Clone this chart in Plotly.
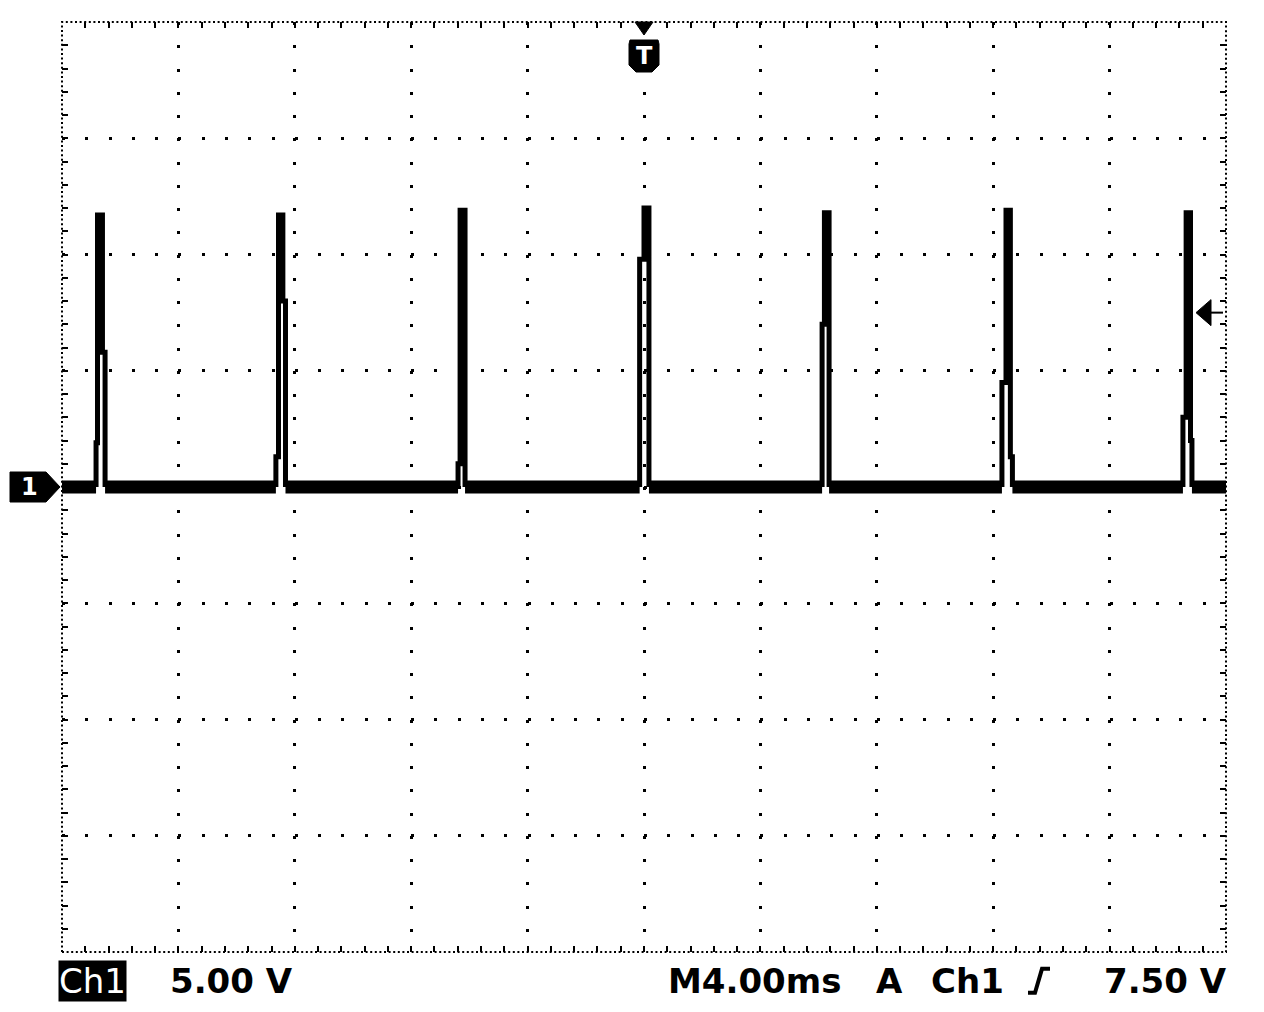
import plotly.graph_objects as go

# ---- data (time in ms relative to trigger, voltage in V) ----
time_range_ms = [-20, 20]
volt_range_v = [-20, 20]
time_div_ms = 4.0
volt_div_v = 5.0

pulse_start_ms = [-18.83, -12.65, -6.39, -0.15, 6.12, 12.30, 18.52]
pulse_rise_ms = [-18.78, -12.56, -6.32, 0.00, 6.20, 12.44, 18.63]
pulse_fall_ms = [-18.61, -12.41, -6.15, 0.17, 6.36, 12.59, 18.78]
pulse_end_ms = [-18.52, -12.32, -6.15, 0.17, 6.36, 12.66, 18.83]
pulse_step_v = [1.9, 1.3, 1.0, 9.8, 7.0, 4.5, 3.0]
pulse_peak_v = [11.7, 11.7, 11.9, 12.0, 11.8, 11.9, 11.8]
pulse_tail_v = [5.8, 8.0, 0.0, 0.0, 0.0, 1.3, 2.0]
baseline_v = 0.0
trigger_level_v = 7.5

ch_label = "Ch1"
volts_label = "5.00 V"
time_label = "M4.00ms"
mode_label = "A"
trig_src_label = "Ch1"
trig_level_label = "7.50 V"

# ---- build traces ----
spike_x, spike_y = [], []
for ta, tb, tc, td, v1, vp, v2 in zip(pulse_start_ms, pulse_rise_ms, pulse_fall_ms,
                                      pulse_end_ms, pulse_step_v, pulse_peak_v, pulse_tail_v):
    spike_x += [ta, ta, tb, tb, tc, tc, td, td, None]
    spike_y += [baseline_v, v1, v1, vp, vp, v2, v2, baseline_v, None]

base_x, base_y = [], []
edges = [time_range_ms[0]] + [v for pair in zip(pulse_start_ms, pulse_end_ms) for v in pair] + [time_range_ms[1]]
for i in range(0, len(edges), 2):
    base_x += [edges[i], edges[i + 1], None]
    base_y += [baseline_v, baseline_v, None]

fig = go.Figure()
fig.add_trace(go.Scatter(x=base_x, y=base_y, mode="lines",
                         line=dict(color="black", width=13), hoverinfo="skip", showlegend=False))
fig.add_trace(go.Scatter(x=spike_x, y=spike_y, mode="lines",
                         line=dict(color="black", width=5), hoverinfo="skip", showlegend=False))

minor_t = time_div_ms / 5
minor_v = volt_div_v / 5

common_hidden = dict(showticklabels=False, showline=False, zeroline=False, showgrid=False)

# page body has an 8px margin: plot area lands at x 62..1226, y 22..952 on screen
fig.update_layout(
    width=1248, height=996,
    margin=dict(l=54, r=30, t=14, b=52),
    paper_bgcolor="white", plot_bgcolor="white",
    showlegend=False,
    xaxis=dict(range=time_range_ms, dtick=time_div_ms, tick0=0,
               showgrid=True, gridcolor="black", gridwidth=3, griddash="3px,20.25px",
               zeroline=False, showline=False, showticklabels=False,
               ticks="inside", ticklen=6, tickcolor="black", tickwidth=2, mirror="ticks",
               minor=dict(dtick=minor_t, tick0=0, ticks="inside", ticklen=6,
                          tickcolor="black", tickwidth=2, showgrid=False)),
    yaxis=dict(range=volt_range_v, dtick=volt_div_v, tick0=0,
               showgrid=True, gridcolor="black", gridwidth=3, griddash="3px,20.28px",
               zeroline=False, showline=False, showticklabels=False,
               ticks="inside", ticklen=6, tickcolor="black", tickwidth=2, mirror="ticks",
               minor=dict(dtick=minor_v, tick0=0, ticks="inside", ticklen=6,
                          tickcolor="black", tickwidth=2, showgrid=False)),
    xaxis2=dict(overlaying="x", anchor="free", position=0.5, range=time_range_ms,
                dtick=minor_t, tick0=0, ticks="outside", ticklen=8, tickwidth=3,
                tickcolor="black", **common_hidden),
    xaxis3=dict(overlaying="x", anchor="free", position=0.5, range=time_range_ms,
                dtick=minor_t, tick0=0, ticks="inside", ticklen=8, tickwidth=3,
                tickcolor="black", **common_hidden),
    yaxis2=dict(overlaying="y", anchor="free", position=0.5, range=volt_range_v,
                dtick=minor_v, tick0=0, ticks="outside", ticklen=8, tickwidth=3,
                tickcolor="black", **common_hidden),
    yaxis3=dict(overlaying="y", anchor="free", position=0.5, range=volt_range_v,
                dtick=minor_v, tick0=0, ticks="inside", ticklen=8, tickwidth=3,
                tickcolor="black", **common_hidden),
)

# dotted border
fig.add_shape(type="rect", xref="paper", yref="paper", x0=0, x1=1, y0=0, y1=1,
              line=dict(color="black", width=2, dash="2px,2.6px"), layer="above")

# ground marker "1"
fig.add_shape(type="path", xref="paper", yref="y", xsizemode="pixel", ysizemode="pixel",
              xanchor=0, yanchor=baseline_v,
              path="M-52,-15 L-16,-15 L-2,0 L-16,15 L-52,15 Z",
              fillcolor="black", line=dict(color="black", width=1))
fig.add_annotation(x=0, xref="paper", y=baseline_v, yref="y", xshift=-33, text="<b>1</b>",
                   showarrow=False, xanchor="center", yanchor="middle",
                   font=dict(family="DejaVu Sans", size=24, color="white"))

# trigger position marker "T"
fig.add_shape(type="path", xref="paper", yref="paper", xsizemode="pixel", ysizemode="pixel",
              xanchor=0.5, yanchor=1, path="M-9,0 L9,0 L0,-13 Z",
              fillcolor="black", line=dict(color="black", width=1))
fig.add_shape(type="path", xref="paper", yref="paper", xsizemode="pixel", ysizemode="pixel",
              xanchor=0.5, yanchor=1,
              path="M-14,-18 L14,-18 L15,-22 L15,-43 L8,-50 L-8,-50 L-15,-43 L-15,-22 Z",
              fillcolor="black", line=dict(color="black", width=1))
fig.add_annotation(x=0.5, xref="paper", y=1, yref="paper", yshift=-34, text="<b>T</b>",
                   showarrow=False, xanchor="center", yanchor="middle",
                   font=dict(family="DejaVu Sans", size=24, color="white"))

# trigger level marker
fig.add_shape(type="path", xref="paper", yref="y", xsizemode="pixel", ysizemode="pixel",
              xanchor=1, yanchor=trigger_level_v, path="M-30,0 L-15,13 L-15,-13 Z",
              fillcolor="black", line=dict(color="black", width=1))
fig.add_shape(type="path", xref="paper", yref="y", xsizemode="pixel", ysizemode="pixel",
              xanchor=1, yanchor=trigger_level_v, path="M-16,0 L-3,0",
              line=dict(color="black", width=2))

# bottom status line
status_y = -0.031
font_status = dict(family="DejaVu Sans", size=34, color="black", weight="bold")
def status(text, px, font=font_status, **kw):
    fig.add_annotation(x=(px - 62) / 1164, xref="paper", y=status_y, yref="paper", text=text,
                       showarrow=False, xanchor="center", yanchor="middle", font=font, **kw)

status(ch_label, 92, font=dict(family="DejaVu Sans", size=34, color="white"),
       bgcolor="black", borderpad=0)
status(volts_label, 231)
status(time_label, 754)
status(mode_label, 889)
status(trig_src_label, 967)
status(trig_level_label, 1165)
# rising-edge symbol
fig.add_shape(type="path", xref="paper", yref="paper", xsizemode="pixel", ysizemode="pixel",
              xanchor=(1039 - 62) / 1164, yanchor=status_y,
              path="M-11,-12 L-4,-12 L3,12 L11,12",
              line=dict(color="black", width=4))

fig.write_html("out.html")
